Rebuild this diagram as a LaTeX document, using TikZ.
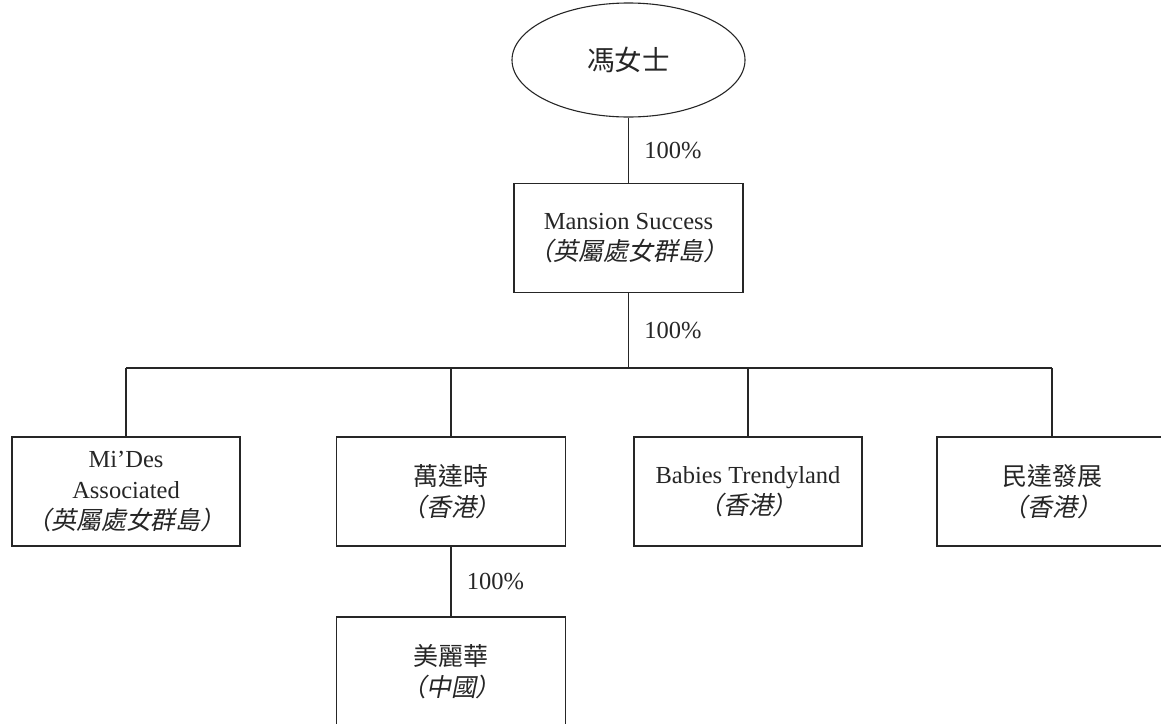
\documentclass[tikz,border=0pt]{standalone}
\usepackage{fontspec}
\setmainfont{Liberation Serif}
\newfontfamily\cjk[Scale=1.02]{Noto Sans CJK TC}
\newfontfamily\cjkit[Scale=1.02,FakeSlant=0.2]{Noto Sans CJK TC}
\usetikzlibrary{shapes.geometric, calc, positioning}

\begin{document}
\begin{tikzpicture}[x=1pt,y=-1pt,line width=1.1pt,draw=black!85,text=black!85,
	font=\fontsize{24.5}{31}\selectfont,
	box/.style={draw,rectangle,minimum width=229pt,minimum height=109pt,align=center,inner sep=0pt},
	pct/.style={midway,right=12pt}]
	\useasboundingbox(0,0)rectangle(1161,723);
	\node[draw,ellipse,minimum width=233pt,minimum height=114pt,font=\fontsize{27}{30}\selectfont](fn)at(628.5,60){\cjk 馮女士};
	\node[box](ms)at(628.5,238){Mansion Success\\\cjkit（英屬處女群島）};
	\node[box,minimum width=228pt](md)at(126,491.5){Mi’Des\\Associated\\\cjkit（英屬處女群島）};
	\node[box](wds)at(451,491.5){\cjk 萬達時\\\cjkit（香港）};
	\node[box,minimum width=228pt](bt)at(748,491.5){Babies Trendyland\\\cjkit（香港）};
	\node[box,minimum width=230pt](mdfz)at(1052,491.5){\cjk 民達發展\\\cjkit（香港）};
	\node[box](mlh)at(451,671.5){\cjk 美麗華\\\cjkit（中國）};
	\coordinate(bus)at(628.5,368);
	\draw(fn)--(ms)node[pct]{100\%};
	\draw(ms)--(bus)node[pct]{100\%};
	\draw(md.north|-bus)--(mdfz.north|-bus);
	\foreach \n in {md,wds,bt,mdfz}
		\draw(bus-|\n.north)--(\n);
	\draw(wds)--(mlh)node[pct]{100\%};
\end{tikzpicture}
\end{document}
